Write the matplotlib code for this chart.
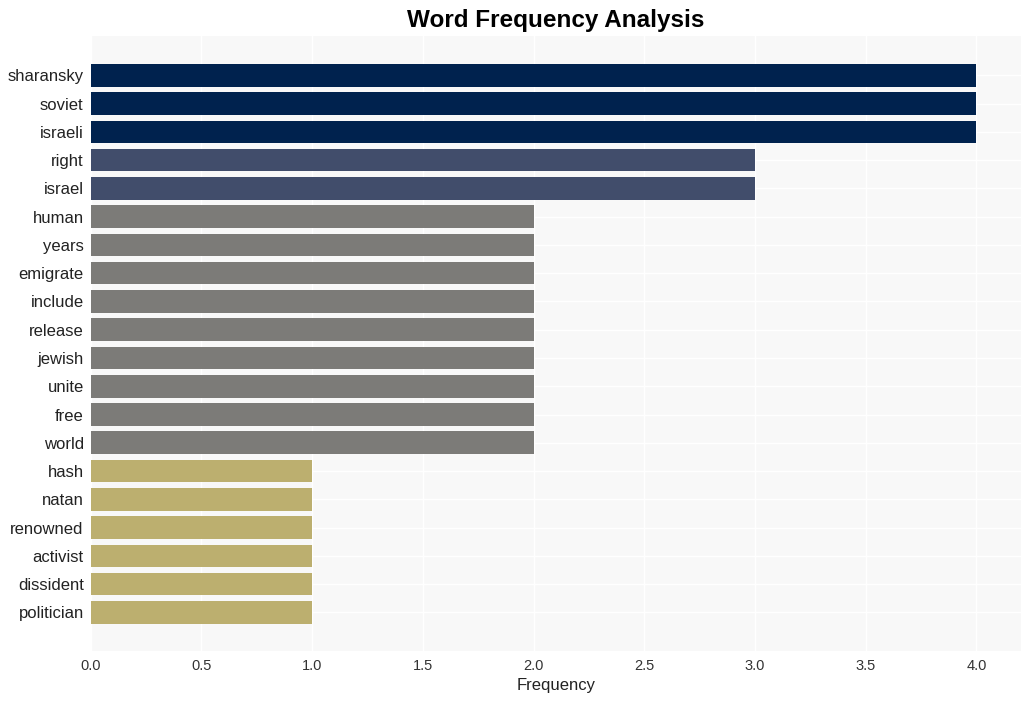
import matplotlib
matplotlib.use("Agg")
import matplotlib.pyplot as plt

plt.rcParams["font.family"] = ["Liberation Sans", "DejaVu Sans"]

WORDS = [
    "sharansky", "soviet", "israeli", "right", "israel", "human", "years",
    "emigrate", "include", "release", "jewish", "unite", "free", "world",
    "hash", "natan", "renowned", "activist", "dissident", "politician",
]
COUNTS = [4, 4, 4, 3, 3, 2, 2, 2, 2, 2, 2, 2, 2, 2, 1, 1, 1, 1, 1, 1]

# colour per frequency level
LEVEL_COLOURS = {4: "#00224e", 3: "#414d6b", 2: "#7c7b78", 1: "#bcaf6f"}

fig, ax = plt.subplots(figsize=(10.30, 7.01), dpi=100)
fig.subplots_adjust(left=0.088, right=0.991, top=0.949, bottom=0.072)

ax.set_facecolor("#f8f8f8")
y = list(range(len(WORDS)))
ax.barh(y, COUNTS, height=0.8, color=[LEVEL_COLOURS[c] for c in COUNTS], zorder=3)

ax.set_yticks(y)
ax.set_yticklabels(WORDS, fontsize=12, color="#222222")
ax.set_ylim(len(WORDS) - 1 + 1.35, -1.4)
ax.set_xlim(0, 4.2)
ax.set_xticks([0, 0.5, 1.0, 1.5, 2.0, 2.5, 3.0, 3.5, 4.0])
ax.tick_params(axis="x", labelsize=10.5, colors="#333333", length=0, pad=6)
ax.tick_params(axis="y", length=0, pad=5)

ax.grid(True, color="white", linewidth=1.0, zorder=0)
for spine in ax.spines.values():
    spine.set_visible(False)

ax.set_xlabel("Frequency", fontsize=12, color="#222222", labelpad=4)
ax.set_title("Word Frequency Analysis", fontsize=17.5, fontweight="bold", pad=6)

fig.savefig("out.png", dpi=100)
